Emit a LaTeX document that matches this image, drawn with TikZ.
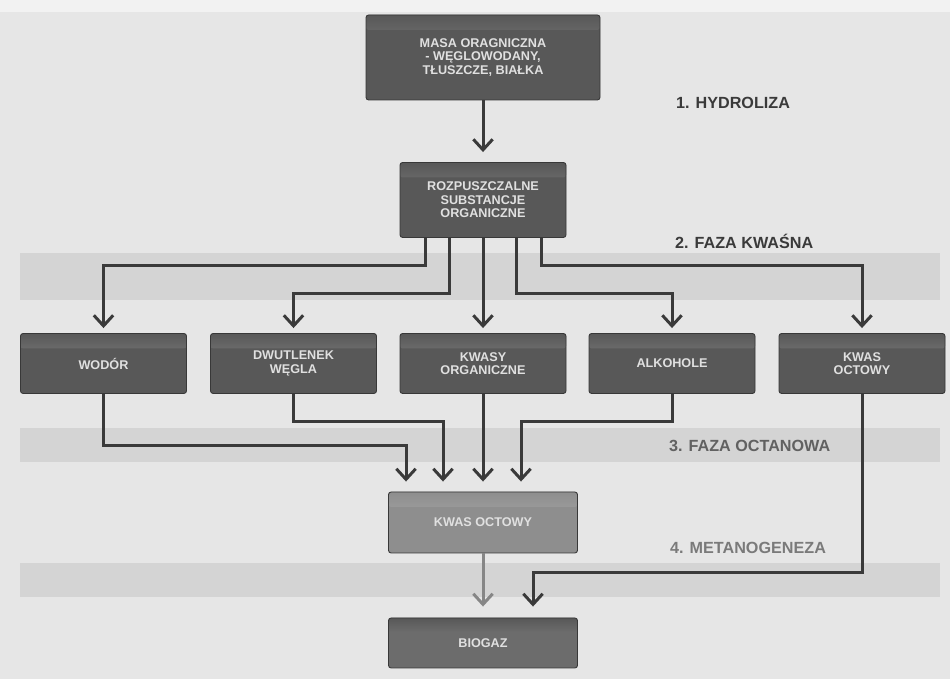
\documentclass[tikz,border=0pt]{standalone}
\usepackage{fontspec}
\setmainfont{Liberation Sans}
\usetikzlibrary{arrows.meta}
\definecolor{pagebg}{HTML}{E6E6E6}
\definecolor{pagetop}{HTML}{F2F2F2}
\definecolor{bandcol}{HTML}{D4D4D4}
\definecolor{boxfill}{HTML}{585858}
\definecolor{boxhi}{HTML}{7C7C7C}
\definecolor{boxline}{HTML}{383838}
\definecolor{boxtext}{HTML}{E0E0E0}
\definecolor{midfill}{HTML}{8E8E8E}
\definecolor{midhi}{HTML}{A4A4A4}
\definecolor{flowcol}{HTML}{3A3A3A}
\definecolor{flowgray}{HTML}{868686}
\tikzset{
  stagebox/.style={draw=boxline, line width=0.5pt, rounded corners=1.5pt,
    fill=boxfill, text=boxtext, align=center, inner sep=0pt,
    font=\bfseries\fontsize{7.2}{7.6}\selectfont,
    path picture={\shade[top color=boxfill, bottom color=boxfill, middle color=boxhi]
      (path picture bounding box.north west) rectangle
      ([yshift=-0.30cm]path picture bounding box.north east);}},
  rowbox/.style={stagebox, minimum width=3.32cm, minimum height=1.20cm},
  flow/.style={draw=flowcol, line width=1.7pt, shorten >=0.1cm,
    -{Straight Barb[length=6pt,width=11pt]}},
  phase/.style={anchor=west, font=\bfseries\fontsize{9.2}{10}\selectfont}
}
\begin{document}
\begin{tikzpicture}
% page of the scan
\useasboundingbox (0,0) rectangle (19.00,13.58);
\fill[pagebg] (0,0) rectangle (19.00,13.58);%
\fill[pagetop] (0,13.34) rectangle (19.00,13.58);%
\fill[bandcol] (0.40,7.58) rectangle (18.80,8.52);%
\fill[bandcol] (0.40,4.34) rectangle (18.80,5.02);%
\fill[bandcol] (0.40,1.64) rectangle (18.80,2.32);%

% Drawing box masa
\node[stagebox, minimum width=4.68cm, minimum height=1.70cm] (masa) at (9.66,12.43)
  {MASA ORAGNICZNA\\- WĘGLOWODANY,\\TŁUSZCZE, BIAŁKA};%

% Drawing box rozp
\node[stagebox, minimum width=3.32cm, minimum height=1.50cm] (rozp) at (9.66,9.58)
  {ROZPUSZCZALNE\\SUBSTANCJE\\ORGANICZNE};%

% Drawing row of boxes
\node[rowbox] (wodor) at (2.07,6.31) {WODÓR};%
\node[rowbox] (dwut) at (5.87,6.31) {DWUTLENEK\\WĘGLA};%
\node[rowbox] (kwasy) at (9.66,6.31) {KWASY\\ORGANICZNE};%
\node[rowbox] (alk) at (13.44,6.31) {ALKOHOLE};%
\node[rowbox] (kwas) at (17.24,6.31) {KWAS\\OCTOWY};%

% Drawing box octowy
\node[stagebox, fill=midfill, minimum width=3.78cm, minimum height=1.22cm,
  path picture={\shade[top color=midfill, bottom color=midfill, middle color=midhi]
    (path picture bounding box.north west) rectangle
    ([yshift=-0.30cm]path picture bounding box.north east);}]
  (octowy) at (9.66,3.13) {KWAS OCTOWY};%

% Drawing box biogaz
\node[stagebox, fill=boxfill!88!white, minimum width=3.78cm, minimum height=1.00cm]
  (biogaz) at (9.66,0.72) {BIOGAZ};%

% Marking phases
\node[phase, text=flowcol] (ph1) at (13.40,11.52) {1. HYDROLIZA};%
\node[phase, text=flowcol] (ph2) at (13.38,8.76) {2. FAZA KWAŚNA};%
\node[phase, text=black!62] (ph3) at (13.26,4.66) {3. FAZA OCTANOWA};%
\node[phase, text=black!52] (ph4) at (13.28,2.62) {4. METANOGENEZA};%

% Drawing arrow of phase 1
\draw[flow, shorten >=0.2cm] (masa) -- (rozp);%

% Drawing arrows of phase 2
\draw[flow] ([xshift=-1.16cm]rozp.south) -- ++(0,-0.56) -| (wodor.north);%
\draw[flow] ([xshift=-0.68cm]rozp.south) -- ++(0,-1.12) -| (dwut.north);%
\draw[flow] (rozp) -- (kwasy);%
\draw[flow] ([xshift=0.66cm]rozp.south) -- ++(0,-1.12) -| (alk.north);%
\draw[flow] ([xshift=1.16cm]rozp.south) -- ++(0,-0.56) -| (kwas.north);%

% Drawing arrows of phase 3
\draw[flow, shorten >=0.2cm] (wodor.south) -- ++(0,-1.03) -| ([xshift=-1.54cm]octowy.north);%
\draw[flow, shorten >=0.2cm] (dwut.south) -- ++(0,-0.55) -| ([xshift=-0.80cm]octowy.north);%
\draw[flow, shorten >=0.2cm] (kwasy) -- (octowy);%
\draw[flow, shorten >=0.2cm] (alk.south) -- ++(0,-0.55) -| ([xshift=0.76cm]octowy.north);%

% Drawing arrows of phase 4
\draw[flow, draw=flowgray, shorten >=0.22cm] (octowy) -- (biogaz);%
\draw[flow, shorten >=0.22cm] (kwas.south) -- ++(0,-3.57) -| ([xshift=1.00cm]biogaz.north);%
\end{tikzpicture}
\end{document}
